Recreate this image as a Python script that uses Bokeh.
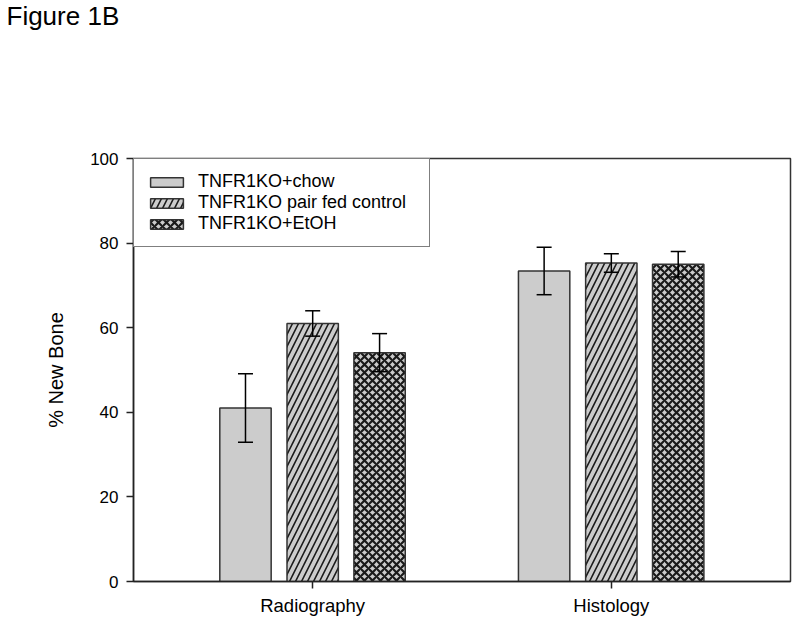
from bokeh.plotting import figure
from bokeh.models import Range1d, FixedTicker, Whisker, ColumnDataSource, TeeHead
from bokeh.embed import file_html
from bokeh.resources import INLINE

# ---- data ----
categories = ["Radiography", "Histology"]
series = ["TNFR1KO+chow", "TNFR1KO pair fed control", "TNFR1KO+EtOH"]
chow = [41.0, 73.4]
chow_err = [8.1, 5.6]
pairfed = [61.0, 75.3]
pairfed_err = [3.0, 2.2]
etoh = [54.1, 75.0]
etoh_err = [4.5, 3.0]
yticks = [0, 20, 40, 60, 80, 100]

means = [chow, pairfed, etoh]
errs = [chow_err, pairfed_err, etoh_err]
hatches = [" ", "/", "x"]
hweights = [1.0, 1.6, 2.2]
hscales = [12, 12, 8]
offsets = [-0.225, 0.0, 0.224]
FONT = "Liberation Sans"

p = figure(width=792, height=618, x_range=Range1d(0.4, 2.6), y_range=Range1d(0, 100),
           output_backend="svg", toolbar_location=None,
           min_border_left=133, min_border_right=2, min_border_top=0, min_border_bottom=34)

pos = [i + 1 for i in range(len(categories))]
for s, m, e, h, hw, hs, off in zip(series, means, errs, hatches, hweights, hscales, offsets):
    xs = [x + off for x in pos]
    src = ColumnDataSource(dict(x=xs, top=m,
                                upper=[a + b for a, b in zip(m, e)],
                                lower=[a - b for a, b in zip(m, e)]))
    p.vbar(x="x", top="top", width=0.172, source=src,
           fill_color="#cccccc", line_color="#333333", line_width=1.5,
           hatch_pattern=h, hatch_color="#1a1a1a", hatch_scale=hs, hatch_weight=hw,
           legend_label=s)
    w = Whisker(base="x", upper="upper", lower="lower", source=src,
                line_color="black", line_width=1.5, level="overlay",
                upper_head=TeeHead(size=15, line_color="black", line_width=1.5),
                lower_head=TeeHead(size=15, line_color="black", line_width=1.5))
    p.add_layout(w)

# axes
p.xaxis.ticker = FixedTicker(ticks=pos)
p.xaxis.major_label_overrides = {x: c for x, c in zip(pos, categories)}
p.yaxis.ticker = FixedTicker(ticks=yticks)
for ax in (p.xaxis[0], p.yaxis[0]):
    ax.minor_tick_line_color = None
    ax.major_tick_in = 0
    ax.major_tick_out = 7
    ax.axis_line_color = "#222222"
    ax.axis_line_width = 1.5
    ax.major_tick_line_color = "#222222"
    ax.major_tick_line_width = 1.5
    ax.major_label_text_font = FONT
    ax.major_label_text_font_size = "17px"
    ax.major_label_text_color = "black"
p.xaxis.major_label_text_font_size = "18.5px"
p.xaxis.major_label_standoff = 6
p.yaxis.major_label_standoff = 8
p.yaxis.axis_label = "% New Bone"
p.yaxis.axis_label_text_font = FONT
p.yaxis.axis_label_text_font_size = "20px"
p.yaxis.axis_label_text_font_style = "normal"
p.yaxis.axis_label_text_color = "black"
p.yaxis.axis_label_standoff = 20

p.xgrid.visible = False
p.ygrid.visible = False
p.outline_line_color = "#333333"
p.outline_line_width = 1.5

# legend
lg = p.legend[0]
lg.location = "top_left"
lg.margin = 0
lg.padding = 12
lg.spacing = 0
lg.glyph_width = 41
lg.glyph_height = 12
lg.label_height = 21
lg.label_width = 219
lg.label_standoff = 11
lg.label_text_font = FONT
lg.label_text_font_size = "18px"
lg.label_text_color = "black"
lg.border_line_color = "black"
lg.border_line_width = 1.5
lg.background_fill_alpha = 1

# figure title
p.title.text = "Figure 1B"
p.title.align = "left"
p.title.vertical_align = "top"
p.title.offset = -127
p.title.standoff = 0
try:
    p.title.padding = (0, 0, 0, 126)
except Exception:
    p.title.standoff = 124
p.title.text_font = FONT
p.title.text_font_size = "26px"
p.title.text_font_style = "normal"
p.title.text_color = "black"

open("out.html", "w").write(file_html(p, INLINE))
